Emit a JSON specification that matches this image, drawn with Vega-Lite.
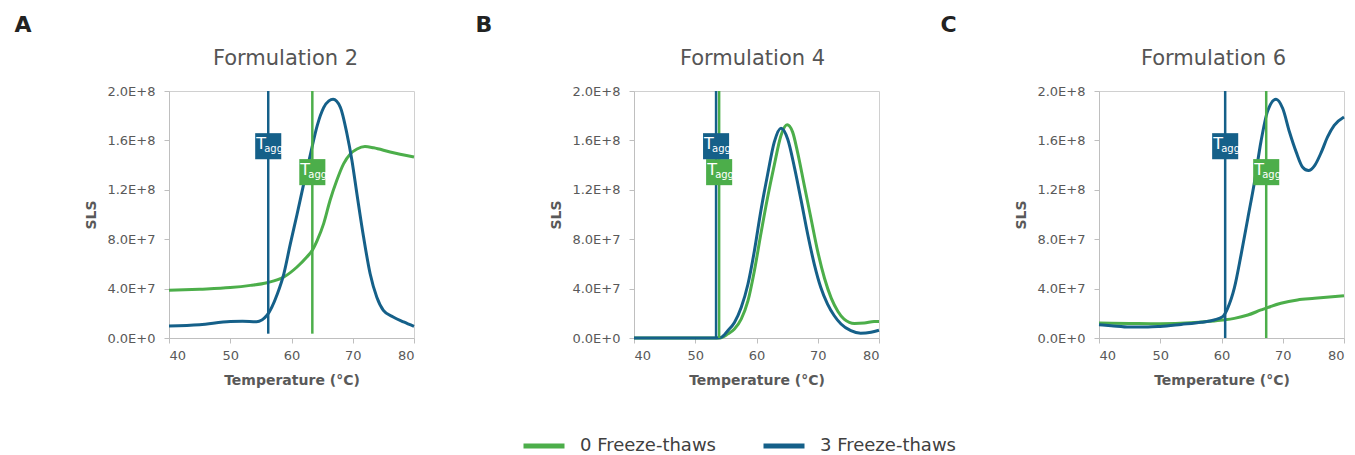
{
  "$schema": "https://vega.github.io/schema/vega-lite/v6.json",
  "background": "white",
  "padding": {"left": 14, "top": 13, "right": 5, "bottom": 0},
  "datasets": {
    "curves": [
      {"panel": "A", "series": "0 Freeze-thaws", "temp": 40, "sls": 38600000},
      {"panel": "A", "series": "0 Freeze-thaws", "temp": 45, "sls": 39500000},
      {"panel": "A", "series": "0 Freeze-thaws", "temp": 50, "sls": 40800000},
      {"panel": "A", "series": "0 Freeze-thaws", "temp": 53.3, "sls": 42600000},
      {"panel": "A", "series": "0 Freeze-thaws", "temp": 56, "sls": 44800000},
      {"panel": "A", "series": "0 Freeze-thaws", "temp": 58.75, "sls": 49400000},
      {"panel": "A", "series": "0 Freeze-thaws", "temp": 60.9, "sls": 57500000},
      {"panel": "A", "series": "0 Freeze-thaws", "temp": 62.5, "sls": 65600000},
      {"panel": "A", "series": "0 Freeze-thaws", "temp": 63.4, "sls": 71000000},
      {"panel": "A", "series": "0 Freeze-thaws", "temp": 64.2, "sls": 79000000},
      {"panel": "A", "series": "0 Freeze-thaws", "temp": 65.25, "sls": 92600000},
      {"panel": "A", "series": "0 Freeze-thaws", "temp": 66.3, "sls": 111500000},
      {"panel": "A", "series": "0 Freeze-thaws", "temp": 67.4, "sls": 127700000},
      {"panel": "A", "series": "0 Freeze-thaws", "temp": 68.5, "sls": 141000000},
      {"panel": "A", "series": "0 Freeze-thaws", "temp": 69.6, "sls": 149000000},
      {"panel": "A", "series": "0 Freeze-thaws", "temp": 70.7, "sls": 153000000},
      {"panel": "A", "series": "0 Freeze-thaws", "temp": 72, "sls": 155000000},
      {"panel": "A", "series": "0 Freeze-thaws", "temp": 73.4, "sls": 154000000},
      {"panel": "A", "series": "0 Freeze-thaws", "temp": 76.1, "sls": 150600000},
      {"panel": "A", "series": "0 Freeze-thaws", "temp": 80, "sls": 146600000},

      {"panel": "A", "series": "3 Freeze-thaws", "temp": 40, "sls": 9700000},
      {"panel": "A", "series": "3 Freeze-thaws", "temp": 45, "sls": 10800000},
      {"panel": "A", "series": "3 Freeze-thaws", "temp": 50, "sls": 13300000},
      {"panel": "A", "series": "3 Freeze-thaws", "temp": 52, "sls": 13500000},
      {"panel": "A", "series": "3 Freeze-thaws", "temp": 54.3, "sls": 13200000},
      {"panel": "A", "series": "3 Freeze-thaws", "temp": 56, "sls": 18400000},
      {"panel": "A", "series": "3 Freeze-thaws", "temp": 57.7, "sls": 35900000},
      {"panel": "A", "series": "3 Freeze-thaws", "temp": 58.75, "sls": 52000000},
      {"panel": "A", "series": "3 Freeze-thaws", "temp": 59.8, "sls": 76000000},
      {"panel": "A", "series": "3 Freeze-thaws", "temp": 60.9, "sls": 100000000},
      {"panel": "A", "series": "3 Freeze-thaws", "temp": 62, "sls": 125000000},
      {"panel": "A", "series": "3 Freeze-thaws", "temp": 63.1, "sls": 149000000},
      {"panel": "A", "series": "3 Freeze-thaws", "temp": 64.2, "sls": 172000000},
      {"panel": "A", "series": "3 Freeze-thaws", "temp": 65.25, "sls": 186500000},
      {"panel": "A", "series": "3 Freeze-thaws", "temp": 66.1, "sls": 192000000},
      {"panel": "A", "series": "3 Freeze-thaws", "temp": 66.8, "sls": 193300000},
      {"panel": "A", "series": "3 Freeze-thaws", "temp": 67.96, "sls": 187000000},
      {"panel": "A", "series": "3 Freeze-thaws", "temp": 69.05, "sls": 165400000},
      {"panel": "A", "series": "3 Freeze-thaws", "temp": 69.86, "sls": 143900000},
      {"panel": "A", "series": "3 Freeze-thaws", "temp": 70.67, "sls": 117000000},
      {"panel": "A", "series": "3 Freeze-thaws", "temp": 71.76, "sls": 82000000},
      {"panel": "A", "series": "3 Freeze-thaws", "temp": 72.84, "sls": 52000000},
      {"panel": "A", "series": "3 Freeze-thaws", "temp": 73.93, "sls": 33000000},
      {"panel": "A", "series": "3 Freeze-thaws", "temp": 75, "sls": 22400000},
      {"panel": "A", "series": "3 Freeze-thaws", "temp": 76.6, "sls": 17000000},
      {"panel": "A", "series": "3 Freeze-thaws", "temp": 78.3, "sls": 13000000},
      {"panel": "A", "series": "3 Freeze-thaws", "temp": 80, "sls": 9400000},

      {"panel": "B", "series": "0 Freeze-thaws", "temp": 40, "sls": 0},
      {"panel": "B", "series": "0 Freeze-thaws", "temp": 53.9, "sls": 0},
      {"panel": "B", "series": "0 Freeze-thaws", "temp": 55.3, "sls": 3200000},
      {"panel": "B", "series": "0 Freeze-thaws", "temp": 56.4, "sls": 7300000},
      {"panel": "B", "series": "0 Freeze-thaws", "temp": 57.5, "sls": 15300000},
      {"panel": "B", "series": "0 Freeze-thaws", "temp": 58.6, "sls": 30000000},
      {"panel": "B", "series": "0 Freeze-thaws", "temp": 59.65, "sls": 54300000},
      {"panel": "B", "series": "0 Freeze-thaws", "temp": 60.7, "sls": 84000000},
      {"panel": "B", "series": "0 Freeze-thaws", "temp": 61.8, "sls": 113600000},
      {"panel": "B", "series": "0 Freeze-thaws", "temp": 62.9, "sls": 140000000},
      {"panel": "B", "series": "0 Freeze-thaws", "temp": 64, "sls": 164000000},
      {"panel": "B", "series": "0 Freeze-thaws", "temp": 65, "sls": 172600000},
      {"panel": "B", "series": "0 Freeze-thaws", "temp": 65.9, "sls": 166700000},
      {"panel": "B", "series": "0 Freeze-thaws", "temp": 66.7, "sls": 150500000},
      {"panel": "B", "series": "0 Freeze-thaws", "temp": 67.8, "sls": 123600000},
      {"panel": "B", "series": "0 Freeze-thaws", "temp": 68.9, "sls": 96800000},
      {"panel": "B", "series": "0 Freeze-thaws", "temp": 70, "sls": 70000000},
      {"panel": "B", "series": "0 Freeze-thaws", "temp": 71.1, "sls": 48400000},
      {"panel": "B", "series": "0 Freeze-thaws", "temp": 72.2, "sls": 32300000},
      {"panel": "B", "series": "0 Freeze-thaws", "temp": 73.3, "sls": 21500000},
      {"panel": "B", "series": "0 Freeze-thaws", "temp": 74.3, "sls": 15300000},
      {"panel": "B", "series": "0 Freeze-thaws", "temp": 76, "sls": 11800000},
      {"panel": "B", "series": "0 Freeze-thaws", "temp": 77.6, "sls": 12100000},
      {"panel": "B", "series": "0 Freeze-thaws", "temp": 79.2, "sls": 13400000},
      {"panel": "B", "series": "0 Freeze-thaws", "temp": 80, "sls": 13400000},

      {"panel": "B", "series": "3 Freeze-thaws", "temp": 40, "sls": 0},
      {"panel": "B", "series": "3 Freeze-thaws", "temp": 53.5, "sls": 0},
      {"panel": "B", "series": "3 Freeze-thaws", "temp": 54.2, "sls": 500000},
      {"panel": "B", "series": "3 Freeze-thaws", "temp": 55.3, "sls": 5900000},
      {"panel": "B", "series": "3 Freeze-thaws", "temp": 56.4, "sls": 12600000},
      {"panel": "B", "series": "3 Freeze-thaws", "temp": 57.5, "sls": 24700000},
      {"panel": "B", "series": "3 Freeze-thaws", "temp": 58.6, "sls": 43500000},
      {"panel": "B", "series": "3 Freeze-thaws", "temp": 59.65, "sls": 70400000},
      {"panel": "B", "series": "3 Freeze-thaws", "temp": 60.7, "sls": 102600000},
      {"panel": "B", "series": "3 Freeze-thaws", "temp": 61.8, "sls": 132000000},
      {"panel": "B", "series": "3 Freeze-thaws", "temp": 62.9, "sls": 158600000},
      {"panel": "B", "series": "3 Freeze-thaws", "temp": 64, "sls": 169900000},
      {"panel": "B", "series": "3 Freeze-thaws", "temp": 65.1, "sls": 161000000},
      {"panel": "B", "series": "3 Freeze-thaws", "temp": 66.2, "sls": 138000000},
      {"panel": "B", "series": "3 Freeze-thaws", "temp": 67.3, "sls": 111000000},
      {"panel": "B", "series": "3 Freeze-thaws", "temp": 68.36, "sls": 84000000},
      {"panel": "B", "series": "3 Freeze-thaws", "temp": 69.44, "sls": 59700000},
      {"panel": "B", "series": "3 Freeze-thaws", "temp": 70.5, "sls": 40900000},
      {"panel": "B", "series": "3 Freeze-thaws", "temp": 71.6, "sls": 27400000},
      {"panel": "B", "series": "3 Freeze-thaws", "temp": 72.7, "sls": 18000000},
      {"panel": "B", "series": "3 Freeze-thaws", "temp": 73.8, "sls": 11300000},
      {"panel": "B", "series": "3 Freeze-thaws", "temp": 75.4, "sls": 5900000},
      {"panel": "B", "series": "3 Freeze-thaws", "temp": 77, "sls": 3800000},
      {"panel": "B", "series": "3 Freeze-thaws", "temp": 78.7, "sls": 4600000},
      {"panel": "B", "series": "3 Freeze-thaws", "temp": 80, "sls": 6300000},

      {"panel": "C", "series": "0 Freeze-thaws", "temp": 40, "sls": 12200000},
      {"panel": "C", "series": "0 Freeze-thaws", "temp": 45, "sls": 11800000},
      {"panel": "C", "series": "0 Freeze-thaws", "temp": 50, "sls": 11500000},
      {"panel": "C", "series": "0 Freeze-thaws", "temp": 55, "sls": 12300000},
      {"panel": "C", "series": "0 Freeze-thaws", "temp": 58, "sls": 13500000},
      {"panel": "C", "series": "0 Freeze-thaws", "temp": 60.2, "sls": 14600000},
      {"panel": "C", "series": "0 Freeze-thaws", "temp": 62.1, "sls": 15900000},
      {"panel": "C", "series": "0 Freeze-thaws", "temp": 64.3, "sls": 18600000},
      {"panel": "C", "series": "0 Freeze-thaws", "temp": 66.45, "sls": 22700000},
      {"panel": "C", "series": "0 Freeze-thaws", "temp": 67.5, "sls": 24600000},
      {"panel": "C", "series": "0 Freeze-thaws", "temp": 69.7, "sls": 28100000},
      {"panel": "C", "series": "0 Freeze-thaws", "temp": 72.4, "sls": 30800000},
      {"panel": "C", "series": "0 Freeze-thaws", "temp": 75.2, "sls": 32100000},
      {"panel": "C", "series": "0 Freeze-thaws", "temp": 80, "sls": 34300000},

      {"panel": "C", "series": "3 Freeze-thaws", "temp": 40, "sls": 10800000},
      {"panel": "C", "series": "3 Freeze-thaws", "temp": 42, "sls": 10000000},
      {"panel": "C", "series": "3 Freeze-thaws", "temp": 45, "sls": 8900000},
      {"panel": "C", "series": "3 Freeze-thaws", "temp": 48, "sls": 8900000},
      {"panel": "C", "series": "3 Freeze-thaws", "temp": 50, "sls": 9400000},
      {"panel": "C", "series": "3 Freeze-thaws", "temp": 53.4, "sls": 11000000},
      {"panel": "C", "series": "3 Freeze-thaws", "temp": 56.7, "sls": 12700000},
      {"panel": "C", "series": "3 Freeze-thaws", "temp": 58.8, "sls": 14600000},
      {"panel": "C", "series": "3 Freeze-thaws", "temp": 60.2, "sls": 17300000},
      {"panel": "C", "series": "3 Freeze-thaws", "temp": 61, "sls": 24000000},
      {"panel": "C", "series": "3 Freeze-thaws", "temp": 62.1, "sls": 40500000},
      {"panel": "C", "series": "3 Freeze-thaws", "temp": 63.2, "sls": 67500000},
      {"panel": "C", "series": "3 Freeze-thaws", "temp": 64.3, "sls": 97000000},
      {"panel": "C", "series": "3 Freeze-thaws", "temp": 65.4, "sls": 126800000},
      {"panel": "C", "series": "3 Freeze-thaws", "temp": 66.45, "sls": 159200000},
      {"panel": "C", "series": "3 Freeze-thaws", "temp": 67.5, "sls": 183300000},
      {"panel": "C", "series": "3 Freeze-thaws", "temp": 68.9, "sls": 193300000},
      {"panel": "C", "series": "3 Freeze-thaws", "temp": 70, "sls": 185800000},
      {"panel": "C", "series": "3 Freeze-thaws", "temp": 71.1, "sls": 166800000},
      {"panel": "C", "series": "3 Freeze-thaws", "temp": 72.2, "sls": 150500000},
      {"panel": "C", "series": "3 Freeze-thaws", "temp": 73.25, "sls": 138300000},
      {"panel": "C", "series": "3 Freeze-thaws", "temp": 74.2, "sls": 135600000},
      {"panel": "C", "series": "3 Freeze-thaws", "temp": 75.2, "sls": 139600000},
      {"panel": "C", "series": "3 Freeze-thaws", "temp": 76.3, "sls": 150500000},
      {"panel": "C", "series": "3 Freeze-thaws", "temp": 77.3, "sls": 162700000},
      {"panel": "C", "series": "3 Freeze-thaws", "temp": 78.4, "sls": 172200000},
      {"panel": "C", "series": "3 Freeze-thaws", "temp": 80, "sls": 179000000}
    ],
    "tagg": [
      {"panel": "A", "series": "0 Freeze-thaws", "tagg": 63.4, "level": 134300000},
      {"panel": "A", "series": "3 Freeze-thaws", "tagg": 56.2, "level": 155300000},
      {"panel": "B", "series": "0 Freeze-thaws", "tagg": 53.9, "level": 134300000},
      {"panel": "B", "series": "3 Freeze-thaws", "tagg": 53.4, "level": 155300000},
      {"panel": "C", "series": "0 Freeze-thaws", "tagg": 67.3, "level": 134300000},
      {"panel": "C", "series": "3 Freeze-thaws", "tagg": 60.6, "level": 155300000}
    ]
  },
  "spacing": 54,
  "resolve": {"scale": {"color": "shared"}, "legend": {"color": "shared"}},
  "hconcat": [
    {
      "title": {"text": "A", "anchor": "start", "dx": -70, "fontSize": 22, "font": "DejaVu Sans", "fontWeight": "bold", "color": "#222222", "offset": 11},
      "vconcat": [
        {
          "title": {"text": "Formulation 2", "fontSize": 21, "font": "DejaVu Sans", "fontWeight": "normal", "color": "#555555", "offset": 16, "dx": -6},
          "width": 245, "height": 247,
          "layer": [
            {
              "data": {"name": "curves"},
              "transform": [{"filter": "datum.panel === 'A'"}],
              "mark": {"type": "line", "interpolate": "monotone", "strokeWidth": 3},
              "encoding": {
                "x": {"field": "temp", "type": "quantitative", "scale": {"domain": [40, 80], "nice": false}, "axis": {"title": "Temperature (°C)", "values": [40, 50, 60, 70, 80]}},
                "y": {"field": "sls", "type": "quantitative", "scale": {"domain": [0, 200000000], "nice": false}, "axis": {"title": "SLS", "values": [0, 40000000, 80000000, 120000000, 160000000, 200000000], "labelExpr": "replace(format(datum.value, '.1e'), 'e', 'E')"}},
                "color": {"field": "series", "type": "nominal", "scale": {"domain": ["0 Freeze-thaws", "3 Freeze-thaws"], "range": ["#4cae4a", "#156089"]}, "legend": {"orient": "none", "legendX": 352, "legendY": 332, "direction": "horizontal", "title": null}}
              }
            },
            {
              "data": {"name": "tagg"},
              "transform": [{"filter": "datum.panel === 'A'"}],
              "mark": {"type": "rule", "strokeWidth": 2.5},
              "encoding": {
                "x": {"field": "tagg", "type": "quantitative"},
                "y": {"datum": 3500000},
                "y2": {"datum": 200000000},
                "color": {"field": "series", "type": "nominal", "legend": null}
              }
            },
            {
              "data": {"name": "tagg"},
              "transform": [{"filter": "datum.panel === 'A'"}],
              "mark": {"type": "point", "shape": "square", "filled": true, "size": 680, "opacity": 1},
              "encoding": {
                "x": {"field": "tagg", "type": "quantitative"},
                "y": {"field": "level", "type": "quantitative"},
                "color": {"field": "series", "type": "nominal", "legend": null}
              }
            },
            {
              "data": {"name": "tagg"},
              "transform": [{"filter": "datum.panel === 'A'"}],
              "mark": {"type": "text", "text": "T", "align": "left", "baseline": "middle", "dx": -12, "dy": -2, "fontSize": 16, "font": "DejaVu Sans", "color": "white"},
              "encoding": {
                "x": {"field": "tagg", "type": "quantitative"},
                "y": {"field": "level", "type": "quantitative"}
              }
            },
            {
              "data": {"name": "tagg"},
              "transform": [{"filter": "datum.panel === 'A'"}],
              "mark": {"type": "text", "text": "agg", "align": "left", "baseline": "middle", "dx": -4, "dy": 3, "fontSize": 10, "font": "DejaVu Sans", "color": "white"},
              "encoding": {
                "x": {"field": "tagg", "type": "quantitative"},
                "y": {"field": "level", "type": "quantitative"}
              }
            }
          ]
        }
      ]
    },
    {
      "title": {"text": "B", "anchor": "start", "dx": -74, "fontSize": 22, "font": "DejaVu Sans", "fontWeight": "bold", "color": "#222222", "offset": 11},
      "vconcat": [
        {
          "title": {"text": "Formulation 4", "fontSize": 21, "font": "DejaVu Sans", "fontWeight": "normal", "color": "#555555", "offset": 16, "dx": -4},
          "width": 245, "height": 247,
          "layer": [
            {
              "data": {"name": "curves"},
              "transform": [{"filter": "datum.panel === 'B'"}],
              "mark": {"type": "line", "interpolate": "monotone", "strokeWidth": 3},
              "encoding": {
                "x": {"field": "temp", "type": "quantitative", "scale": {"domain": [40, 80], "nice": false}, "axis": {"title": "Temperature (°C)", "values": [40, 50, 60, 70, 80]}},
                "y": {"field": "sls", "type": "quantitative", "scale": {"domain": [0, 200000000], "nice": false}, "axis": {"title": "SLS", "values": [0, 40000000, 80000000, 120000000, 160000000, 200000000], "labelExpr": "replace(format(datum.value, '.1e'), 'e', 'E')"}},
                "color": {"field": "series", "type": "nominal", "legend": null}
              }
            },
            {
              "data": {"name": "tagg"},
              "transform": [{"filter": "datum.panel === 'B'"}],
              "mark": {"type": "rule", "strokeWidth": 2.5},
              "encoding": {
                "x": {"field": "tagg", "type": "quantitative"},
                "color": {"field": "series", "type": "nominal", "legend": null}
              }
            },
            {
              "data": {"name": "tagg"},
              "transform": [{"filter": "datum.panel === 'B'"}],
              "mark": {"type": "point", "shape": "square", "filled": true, "size": 680, "opacity": 1},
              "encoding": {
                "x": {"field": "tagg", "type": "quantitative"},
                "y": {"field": "level", "type": "quantitative"},
                "color": {"field": "series", "type": "nominal", "legend": null}
              }
            },
            {
              "data": {"name": "tagg"},
              "transform": [{"filter": "datum.panel === 'B'"}],
              "mark": {"type": "text", "text": "T", "align": "left", "baseline": "middle", "dx": -12, "dy": -2, "fontSize": 16, "font": "DejaVu Sans", "color": "white"},
              "encoding": {
                "x": {"field": "tagg", "type": "quantitative"},
                "y": {"field": "level", "type": "quantitative"}
              }
            },
            {
              "data": {"name": "tagg"},
              "transform": [{"filter": "datum.panel === 'B'"}],
              "mark": {"type": "text", "text": "agg", "align": "left", "baseline": "middle", "dx": -4, "dy": 3, "fontSize": 10, "font": "DejaVu Sans", "color": "white"},
              "encoding": {
                "x": {"field": "tagg", "type": "quantitative"},
                "y": {"field": "level", "type": "quantitative"}
              }
            }
          ]
        }
      ]
    },
    {
      "title": {"text": "C", "anchor": "start", "dx": -74, "fontSize": 22, "font": "DejaVu Sans", "fontWeight": "bold", "color": "#222222", "offset": 11},
      "vconcat": [
        {
          "title": {"text": "Formulation 6", "fontSize": 21, "font": "DejaVu Sans", "fontWeight": "normal", "color": "#555555", "offset": 16, "dx": -8},
          "width": 245, "height": 247,
          "layer": [
            {
              "data": {"name": "curves"},
              "transform": [{"filter": "datum.panel === 'C'"}],
              "mark": {"type": "line", "interpolate": "monotone", "strokeWidth": 3},
              "encoding": {
                "x": {"field": "temp", "type": "quantitative", "scale": {"domain": [40, 80], "nice": false}, "axis": {"title": "Temperature (°C)", "values": [40, 50, 60, 70, 80]}},
                "y": {"field": "sls", "type": "quantitative", "scale": {"domain": [0, 200000000], "nice": false}, "axis": {"title": "SLS", "values": [0, 40000000, 80000000, 120000000, 160000000, 200000000], "labelExpr": "replace(format(datum.value, '.1e'), 'e', 'E')"}},
                "color": {"field": "series", "type": "nominal", "legend": null}
              }
            },
            {
              "data": {"name": "tagg"},
              "transform": [{"filter": "datum.panel === 'C'"}],
              "mark": {"type": "rule", "strokeWidth": 2.5},
              "encoding": {
                "x": {"field": "tagg", "type": "quantitative"},
                "color": {"field": "series", "type": "nominal", "legend": null}
              }
            },
            {
              "data": {"name": "tagg"},
              "transform": [{"filter": "datum.panel === 'C'"}],
              "mark": {"type": "point", "shape": "square", "filled": true, "size": 680, "opacity": 1},
              "encoding": {
                "x": {"field": "tagg", "type": "quantitative"},
                "y": {"field": "level", "type": "quantitative"},
                "color": {"field": "series", "type": "nominal", "legend": null}
              }
            },
            {
              "data": {"name": "tagg"},
              "transform": [{"filter": "datum.panel === 'C'"}],
              "mark": {"type": "text", "text": "T", "align": "left", "baseline": "middle", "dx": -12, "dy": -2, "fontSize": 16, "font": "DejaVu Sans", "color": "white"},
              "encoding": {
                "x": {"field": "tagg", "type": "quantitative"},
                "y": {"field": "level", "type": "quantitative"}
              }
            },
            {
              "data": {"name": "tagg"},
              "transform": [{"filter": "datum.panel === 'C'"}],
              "mark": {"type": "text", "text": "agg", "align": "left", "baseline": "middle", "dx": -4, "dy": 3, "fontSize": 10, "font": "DejaVu Sans", "color": "white"},
              "encoding": {
                "x": {"field": "tagg", "type": "quantitative"},
                "y": {"field": "level", "type": "quantitative"}
              }
            }
          ]
        }
      ]
    }
  ],
  "config": {
    "font": "DejaVu Sans",
    "view": {"stroke": "#d0d0d0", "strokeWidth": 1},
    "axis": {
      "grid": false,
      "domainColor": "#bfbfbf",
      "tickColor": "#bfbfbf",
      "tickSize": 5,
      "labelFont": "DejaVu Sans",
      "labelFontSize": 13,
      "labelColor": "#595959",
      "titleFont": "DejaVu Sans",
      "titleFontSize": 14,
      "titleFontWeight": "bold",
      "titleColor": "#595959"
    },
    "axisY": {"labelPadding": 9, "titlePadding": 8},
    "axisX": {"labelPadding": 6, "titlePadding": 11},
    "legend": {
      "symbolType": "stroke",
      "symbolSize": 1681,
      "symbolStrokeWidth": 5,
      "labelFont": "DejaVu Sans",
      "labelFontSize": 18,
      "labelColor": "#404040",
      "labelOffset": 13,
      "columnPadding": 37
    }
  }
}
